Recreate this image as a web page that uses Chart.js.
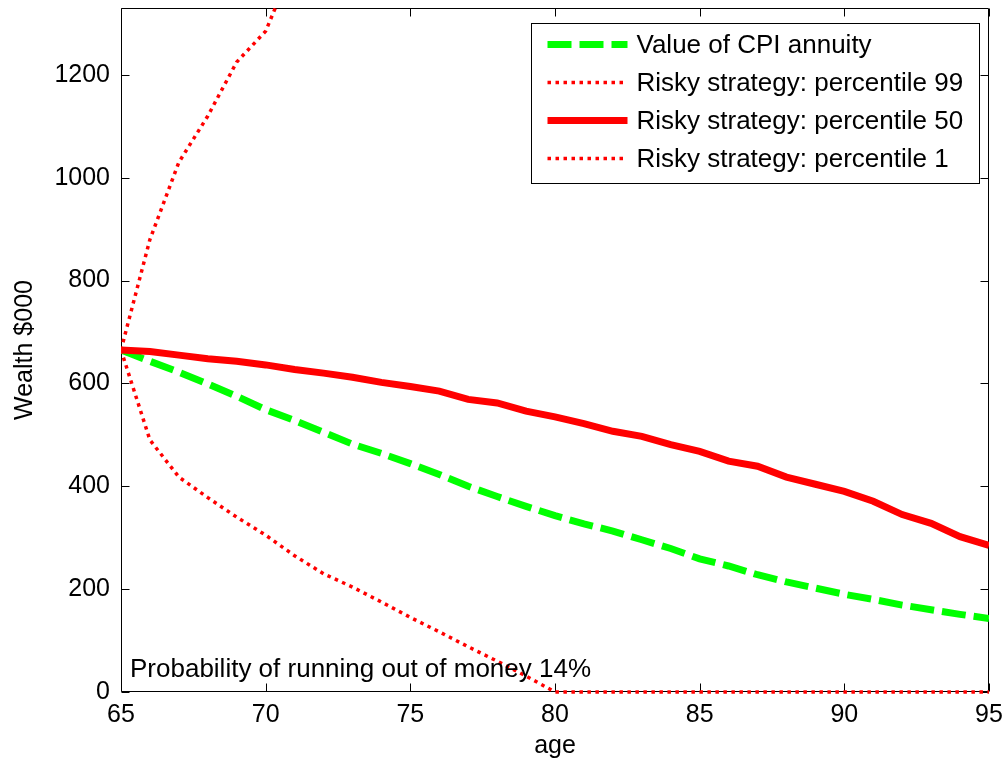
<!DOCTYPE html>
<html>
<head>
<meta charset="utf-8">
<script src="https://cdn.jsdelivr.net/npm/chart.js@4.4.1/dist/chart.umd.min.js"></script>
<style>
  html, body { margin: 0; padding: 0; background: #ffffff; }
  #wrap { width: 1004px; height: 761px; position: relative; }
</style>
</head>
<body>
<div id="wrap"><canvas id="c" width="1004" height="761"></canvas></div>
<script>
// Retirement wealth projection, $000, by age
const ages = [65, 66, 67, 68, 69, 70, 71, 72, 73, 74, 75, 76, 77, 78, 79, 80,
              81, 82, 83, 84, 85, 86, 87, 88, 89, 90, 91, 92, 93, 94, 95];

const cpiAnnuity = [665, 643, 622, 599, 575, 549, 528, 505, 482, 464, 444, 423, 400, 380, 361, 343,
                    327, 313, 296, 279, 259, 245, 228, 214, 202, 190, 180, 169, 160, 151, 143];

// upper percentile leaves the visible range shortly after age 70
const risky99 = [665, 880, 1030, 1120, 1225, 1285, 1420, null, null, null, null, null, null, null, null, null,
                 null, null, null, null, null, null, null, null, null, null, null, null, null, null, null];

const risky50 = [665, 662, 655, 648, 643, 636, 627, 620, 612, 602, 594, 585, 569, 562, 546, 535,
                 522, 507, 497, 481, 468, 449, 439, 418, 404, 390, 371, 345, 328, 302, 285];

const risky1 = [665, 490, 418, 378, 340, 305, 265, 230, 204, 175, 145, 117, 88, 60, 31, 0,
                0, 0, 0, 0, 0, 0, 0, 0, 0, 0, 0, 0, 0, 0, 0];

const xTicks = [65, 70, 75, 80, 85, 90, 95];
const yTicks = [0, 200, 400, 600, 800, 1000, 1200];
const yMax = 1330;

const seriesLabels = [
  'Value of CPI annuity',
  'Risky strategy: percentile 99',
  'Risky strategy: percentile 50',
  'Risky strategy: percentile 1'
];
const noteText = 'Probability of running out of money 14%';

const FONT = '"Liberation Sans", Arial, Helvetica, sans-serif';
const FS = 25;
const FS_TEXT = 26;

const toXY = arr => ages.map((a, i) => ({ x: a, y: arr[i] }));
const clipBox = { left: 0, top: 0, right: 0, bottom: 4 };

// box and inward tick marks on all four sides
const framePlugin = {
  id: 'frame',
  beforeDatasetsDraw(chart) {
    const { ctx, chartArea: a, scales: { x, y } } = chart;
    const L = Math.round(a.left) + 0.5, R = Math.round(a.right) - 0.5;
    const T = Math.round(a.top) + 0.5, B = Math.round(a.bottom) - 0.5;
    const tl = 8;
    ctx.save();
    ctx.strokeStyle = '#000000';
    ctx.lineWidth = 1;
    ctx.beginPath();
    ctx.rect(L, T, R - L, B - T);
    x.ticks.forEach(t => {
      const px = Math.round(x.getPixelForValue(t.value)) + 0.5;
      ctx.moveTo(px, B); ctx.lineTo(px, B - tl);
      ctx.moveTo(px, T); ctx.lineTo(px, T + tl);
    });
    y.ticks.forEach(t => {
      const py = Math.round(y.getPixelForValue(t.value)) + 0.5;
      ctx.moveTo(L, py); ctx.lineTo(L + tl, py);
      ctx.moveTo(R, py); ctx.lineTo(R - tl, py);
    });
    ctx.stroke();
    ctx.restore();
  }
};

// text note in the lower-left corner of the plot
const notePlugin = {
  id: 'note',
  afterDatasetsDraw(chart) {
    const { ctx, chartArea: a } = chart;
    ctx.save();
    ctx.font = FS_TEXT + 'px ' + FONT;
    ctx.fillStyle = '#000000';
    ctx.textAlign = 'left';
    ctx.textBaseline = 'alphabetic';
    ctx.fillText(noteText, a.left + 9, a.bottom - 15);
    ctx.restore();
  }
};

// boxed legend with line samples, top-right inside the plot
const legendBoxPlugin = {
  id: 'legendBox',
  afterDraw(chart) {
    const { ctx, chartArea: a } = chart;
    const w = 448, h = 160;
    const bx = Math.round(a.right - 10 - w) + 0.5;
    const by = Math.round(a.top + 15) + 0.5;
    ctx.save();
    ctx.fillStyle = '#ffffff';
    ctx.strokeStyle = '#000000';
    ctx.lineWidth = 1;
    ctx.fillRect(bx, by, w, h);
    ctx.strokeRect(bx, by, w, h);
    ctx.font = FS_TEXT + 'px ' + FONT;
    ctx.textAlign = 'left';
    ctx.textBaseline = 'middle';
    chart.data.datasets.forEach((ds, i) => {
      const cy = by + 21 + i * 38;
      ctx.save();
      ctx.strokeStyle = ds.borderColor;
      ctx.lineWidth = ds.borderWidth;
      ctx.setLineDash(ds.borderDash || []);
      ctx.lineCap = 'butt';
      ctx.beginPath();
      ctx.moveTo(bx + 16, cy);
      ctx.lineTo(bx + 96, cy);
      ctx.stroke();
      ctx.restore();
      ctx.fillStyle = '#000000';
      ctx.fillText(ds.label, bx + 105, cy + 1);
    });
    ctx.restore();
  }
};

const tickFont = { family: FONT, size: FS };

new Chart(document.getElementById('c'), {
  type: 'line',
  data: {
    datasets: [
      { label: seriesLabels[0], data: toXY(cpiAnnuity), borderColor: '#00ff00', borderWidth: 7,
        borderDash: [24, 8], order: 4 },
      { label: seriesLabels[1], data: toXY(risky99), borderColor: '#ff0000', borderWidth: 3.5,
        borderDash: [3.5, 4.5], order: 3 },
      { label: seriesLabels[2], data: toXY(risky50), borderColor: '#ff0000', borderWidth: 7,
        borderJoin: 'round', order: 2 },
      { label: seriesLabels[3], data: toXY(risky1), borderColor: '#ff0000', borderWidth: 3.5,
        borderDash: [3.5, 4.5], order: 1 }
    ].map(d => Object.assign({ pointRadius: 0, pointHoverRadius: 0, tension: 0, fill: false,
                               spanGaps: false, clip: clipBox }, d))
  },
  options: {
    responsive: false,
    animation: false,
    events: [],
    layout: { padding: { top: 8, right: 15, left: 0, bottom: 0 } },
    plugins: {
      legend: { display: false },
      tooltip: { enabled: false },
      title: { display: false }
    },
    scales: {
      x: {
        type: 'linear',
        min: 65,
        max: 95,
        afterBuildTicks: s => { s.ticks = xTicks.map(v => ({ value: v })); },
        afterFit: s => { s.height = 69; s.paddingLeft = 0; s.paddingRight = 0; },
        grid: { display: false, drawTicks: false },
        border: { display: false },
        ticks: { color: '#000000', font: tickFont, padding: 8, maxRotation: 0, autoSkip: false,
                 callback: v => String(v) },
        title: { display: true, text: 'age', color: '#000000', font: tickFont, padding: 0 }
      },
      y: {
        type: 'linear',
        min: 0,
        max: yMax,
        afterBuildTicks: s => { s.ticks = yTicks.map(v => ({ value: v })); },
        afterFit: s => { s.width = 121; s.paddingTop = 0; s.paddingBottom = 0; },
        grid: { display: false, drawTicks: false },
        border: { display: false },
        ticks: { color: '#000000', font: tickFont, padding: 11, autoSkip: false,
                 callback: v => String(v) },
        title: { display: true, text: 'Wealth $000', color: '#000000', font: tickFont,
                 padding: { top: 10, bottom: 0 } }
      }
    }
  },
  plugins: [framePlugin, notePlugin, legendBoxPlugin]
});
</script>
</body>
</html>
